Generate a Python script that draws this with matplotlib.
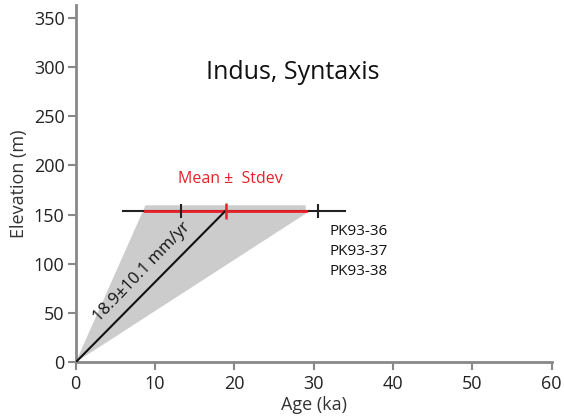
import matplotlib
matplotlib.use("Agg")
import matplotlib.pyplot as plt

plt.rcParams['font.family'] = ['Open Sans', 'DejaVu Sans']

# Data
elevation = 154.0
mean_age = 18.9
stdev_age = 10.1
sample_ages = [13.3, 30.6]
range_min, range_max = 6.0, 33.9
fill_top = 159.5
fill_right_bottom = 151.0
samples = ["PK93-36", "PK93-37", "PK93-38"]
rate_label = "18.9±10.1 mm/yr"
xticks = [0, 10, 20, 30, 40, 50, 60]
yticks = [0, 50, 100, 150, 200, 250, 300, 350]

fig = plt.figure(figsize=(5.64, 4.17), dpi=100)
ax = fig.add_axes([0.1342, 0.1312, 0.978 - 0.1342, 0.988 - 0.1312])

lo, hi = mean_age - stdev_age, mean_age + stdev_age
ax.fill([0, lo, hi, hi], [0, fill_top, fill_top, fill_right_bottom],
        color='#cccccc', lw=0, zorder=1)
ax.plot([range_min, range_max], [elevation, elevation], color='#222222', lw=1.5, zorder=2)
ax.plot([lo, hi], [elevation, elevation], color='#e8202a', lw=2, zorder=3)
ax.plot(sample_ages, [elevation] * len(sample_ages), ls='none', marker='|',
        ms=10, mew=1.5, color='#222222', zorder=4)
ax.plot([mean_age], [elevation], ls='none', marker='|', ms=11, mew=1.8,
        color='#e8202a', zorder=5)
ax.plot([0, mean_age], [0, elevation], color='#111111', lw=1.5, zorder=4)

ax.text(8.4, 92, rate_label, rotation=46, ha='center', va='center',
        fontsize=12, color='#111111', rotation_mode='anchor')
ax.text(19.5, 186.5, "Mean ±  Stdev", color='#e8202a', fontsize=11.5,
        ha='center', va='center')
ax.text(27.4, 294, "Indus, Syntaxis", fontsize=18, ha='center', va='center',
        color='#111111')
for i, s in enumerate(samples):
    ax.text(32.0, 132.5 - i * 20, s, fontsize=11, ha='left', va='center',
            color='#111111')

ax.set_xlim(0, 60)
ax.set_ylim(0, 363)
ax.set_xticks(xticks)
ax.set_yticks(yticks)
for s in ['top', 'right']:
    ax.spines[s].set_visible(False)
for s in ['left', 'bottom']:
    ax.spines[s].set_color('#888888')
    ax.spines[s].set_linewidth(2)
ax.tick_params(colors='#888888', width=1.5, length=6, labelsize=13,
               labelcolor='#222222')
ax.tick_params(axis='y', pad=2)
ax.tick_params(axis='x', pad=3)
ax.set_xlabel("Age (ka)", fontsize=13, color='#333333', labelpad=2)
ax.set_ylabel("Elevation (m)", fontsize=13, color='#333333', labelpad=4)

fig.savefig("out.png", dpi=100)
